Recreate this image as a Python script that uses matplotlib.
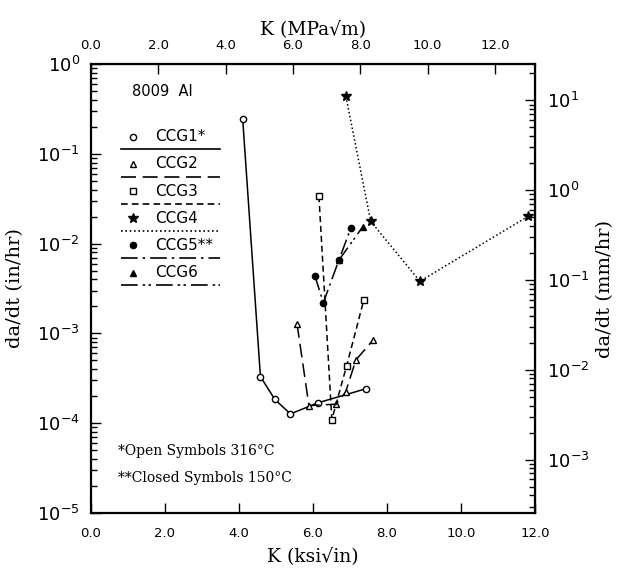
import numpy as np
import matplotlib
matplotlib.use("Agg")
from matplotlib import pyplot as plt

plt.rcParams['mathtext.fontset'] = 'stix'

# data: K in ksi*sqrt(in), da/dt in in/hr
ccg1_k = [4.10, 4.58, 4.97, 5.39, 6.14, 7.43]
ccg1_r = [2.45e-1, 3.3e-4, 1.84e-4, 1.27e-4, 1.69e-4, 2.42e-4]

ccg2_k = [5.57, 5.89, 6.62, 6.88, 7.16, 7.62]
ccg2_r = [1.27e-3, 1.57e-4, 1.63e-4, 2.21e-4, 5.07e-4, 8.4e-4]

ccg3_k = [6.16, 6.51, 6.91, 7.37]
ccg3_r = [3.38e-2, 1.10e-4, 4.37e-4, 2.33e-3]

ccg4_k = [6.89, 7.56, 8.89, 11.82]
ccg4_r = [4.37e-1, 1.77e-2, 3.81e-3, 2.02e-2]

ccg5_k = [6.05, 6.28, 6.70, 7.02]
ccg5_r = [4.41e-3, 2.20e-3, 6.55e-3, 1.48e-2]

ccg6_k = [6.70, 7.34]
ccg6_r = [6.55e-3, 1.53e-2]

names = ['CCG1*', 'CCG2', 'CCG3', 'CCG4', 'CCG5**', 'CCG6']
markers = ['o', '^', 's', '*', 'o', '^']
fills = ['white', 'white', 'white', 'black', 'black', 'black']
styles = ['-', (0, (9, 4)), (0, (4, 2.5)), (0, (1, 1.6)),
          (0, (10, 3, 1.5, 3)), (0, (10, 3, 1.5, 2, 1.5, 3))]
series = [(ccg1_k, ccg1_r), (ccg2_k, ccg2_r), (ccg3_k, ccg3_r),
          (ccg4_k, ccg4_r), (ccg5_k, ccg5_r), (ccg6_k, ccg6_r)]

fig = plt.figure(figsize=(6.21, 5.69), dpi=100)
ax = fig.add_axes([0.1465, 0.0984, 0.715, 0.789])

for (k, r), m, fc, ls in zip(series, markers, fills, styles):
    ms = 7 if m == '*' else 4.5
    ax.plot(k, r, color='black', ls=ls, lw=1.1, marker=m, ms=ms,
            mfc=fc, mec='black', mew=1.0)

ax.set_yscale('log')
ax.set_xlim(0, 12)
ax.set_ylim(1e-5, 1)
ax.set_xticks(np.arange(0, 12.1, 2))
ax.xaxis.set_major_formatter(matplotlib.ticker.FormatStrFormatter('%.1f'))

for sp in ax.spines.values():
    sp.set_linewidth(1.6)

ax.tick_params(which='both', direction='in', width=1.0)
ax.tick_params(which='major', length=7)
ax.tick_params(which='minor', length=4)
ax.tick_params(axis='x', labelsize=9.5, pad=10)
ax.tick_params(axis='y', labelsize=13, pad=8)
for t in ax.get_xticklabels():
    t.set_family('DejaVu Sans')

# top axis in MPa*sqrt(m), right axis in mm/hr
top = ax.secondary_xaxis('top', functions=(lambda x: x * 1.0988, lambda x: x / 1.0988))
top.set_xticks(np.arange(0, 12.1, 2))
top.xaxis.set_major_formatter(matplotlib.ticker.FormatStrFormatter('%.1f'))
top.tick_params(direction='in', length=7, width=1.0, labelsize=9.5, pad=9)

right = ax.secondary_yaxis('right', functions=(lambda y: y * 25.4, lambda y: y / 25.4))
right.tick_params(which='both', direction='in', width=1.0, labelsize=13, pad=9)
right.tick_params(which='major', length=7)
right.tick_params(which='minor', length=4)
right.set_yticks([1e-3, 1e-2, 1e-1, 1e0, 1e1])

ax.set_xlabel('K (ksi√in)', fontsize=13.5, family='DejaVu Serif')
ax.xaxis.set_label_coords(0.5, -0.075)
top.set_xlabel('K (MPa√m)', fontsize=13.5, family='DejaVu Serif', labelpad=3)
ax.set_ylabel('da/dt (in/hr)', fontsize=14, family='DejaVu Serif')
ax.yaxis.set_label_coords(-0.15, 0.5)
right.set_ylabel('da/dt (mm/hr)', fontsize=14, family='DejaVu Serif')

# hand-drawn legend block
ax.text(0.092, 0.94, '8009  Al', transform=ax.transAxes, fontsize=10.5,
        family='DejaVu Sans', va='center')
for i, (n, m, fc, ls) in enumerate(zip(names, markers, fills, styles)):
    yt = 0.838 - i * 0.0605
    yl = yt - 0.028
    ms = 7 if m == '*' else 4.5
    ax.plot([0.095], [yt], transform=ax.transAxes, marker=m, ms=ms,
            mfc=fc, mec='black', mew=1.0, color='black')
    ax.text(0.145, yt, n, transform=ax.transAxes, fontsize=11,
            family='DejaVu Sans', va='center')
    ax.plot([0.068, 0.29], [yl, yl], transform=ax.transAxes, color='black',
            ls=ls, lw=1.2)

ax.text(0.06, 0.138, '*Open Symbols 316°C', transform=ax.transAxes,
        fontsize=10, family='DejaVu Serif', va='center')
ax.text(0.06, 0.078, '**Closed Symbols 150°C', transform=ax.transAxes,
        fontsize=10, family='DejaVu Serif', va='center')

fig.savefig('out.png', dpi=100)
